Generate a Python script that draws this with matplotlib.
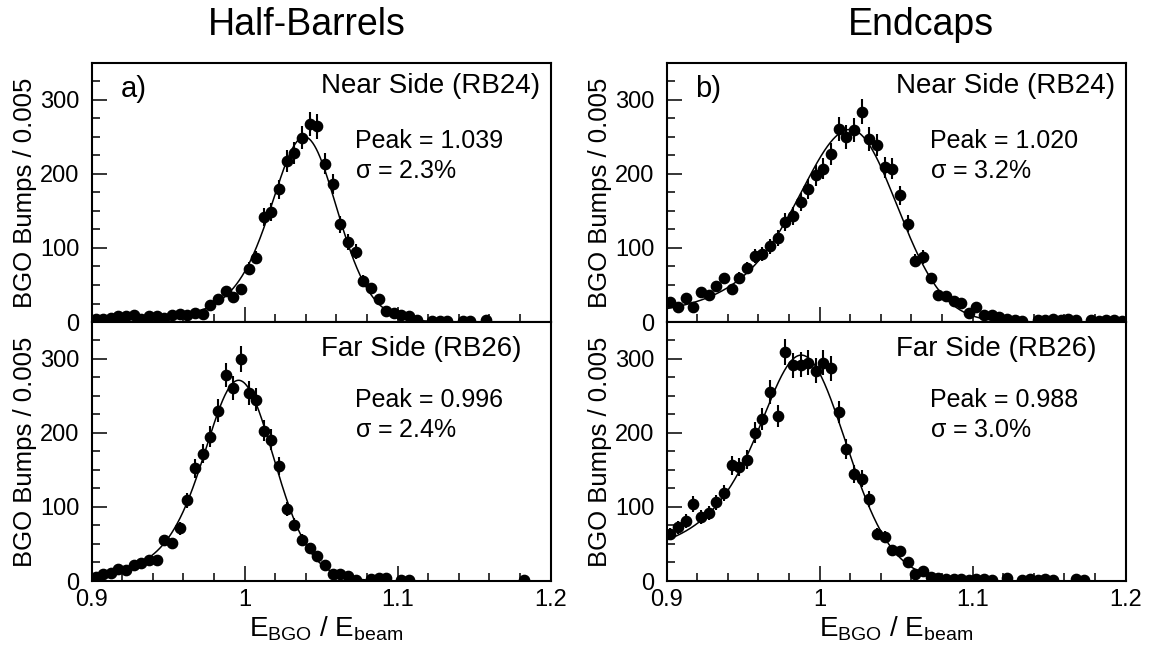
import numpy as np
import matplotlib
matplotlib.use('Agg')
import matplotlib.pyplot as plt
from matplotlib.ticker import MultipleLocator, FixedLocator

plt.rcParams['font.family'] = ['Liberation Sans', 'DejaVu Sans']
plt.rcParams['mathtext.fontset'] = 'custom'
plt.rcParams['mathtext.rm'] = 'Liberation Sans'
plt.rcParams['mathtext.it'] = 'Liberation Sans:italic'
plt.rcParams['mathtext.default'] = 'regular'

# ---- histogram binning: E_BGO / E_beam from 0.9, bins of 0.005 ----
bin_lo = 0.9
bin_w = 0.005

# bin contents (0 = empty bin)
near_hb = [4.5, 4.5, 6, 8, 8, 10, 4, 8, 8, 6, 9, 11, 10, 12, 11, 23, 31, 42, 34, 45,
           72, 87, 142, 149, 179, 217, 228, 249, 267, 264, 214, 186, 132, 108, 95, 56, 46, 31, 15, 12,
           9, 8, 3, 0, 2, 2, 2, 0, 2, 2, 0, 3, 0, 0, 0, 0, 0, 0, 0, 0]
far_hb = [5, 9.5, 11, 16, 15, 22, 24, 28, 29, 55, 51, 71, 109, 152, 172, 195, 230, 278, 260, 300,
          254, 245, 203, 191, 155, 97, 76, 56, 45, 34, 22, 10, 9.5, 7, 2, 0, 3, 4, 4, 0,
          2, 2, 0, 0, 0, 0, 0, 0, 0, 0, 0, 0, 0, 0, 0, 0, 2, 0, 0, 0]
near_ec = [27, 20, 32, 20, 40, 36, 48, 59, 45, 60, 73, 89, 92, 102, 113, 135, 143, 162, 180, 198,
           207, 227, 261, 250, 259, 284, 247, 239, 209, 207, 171, 133, 83, 88, 59, 37, 35, 28, 26, 12,
           20, 10, 9, 7, 4.5, 3, 2, 0, 3, 3, 4, 3, 4, 3, 0, 3, 2, 3, 3, 2]
far_ec = [64, 72.5, 81, 104, 86, 92, 106, 119, 156, 154, 164, 200, 219, 255, 223, 309, 291, 292, 295, 284,
          295, 287, 228, 178, 145, 138, 111, 64, 60, 42, 41, 26, 10, 14, 6, 4, 3, 3, 3, 2,
          3, 3, 2, 0, 4, 0, 2, 3, 2, 3, 2, 0, 0, 3, 2, 0, 0, 0, 0, 0]

# fit results: peak, height, sigma_left, alpha_left, sigma_right, alpha_right
fit_near_hb = [1.039, 250, 0.0215, 0.16, 0.0212, 0.05]
fit_far_hb = [0.996, 271, 0.0225, 0.17, 0.0230, 0.04]
fit_near_ec = [1.020, 260, 0.0345, 0.21, 0.0305, 0.0]
fit_far_ec = [0.988, 305, 0.0289, 0.37, 0.0292, 0.03]

side_labels = ['Near Side (RB24)', 'Far Side (RB26)']
peak_texts = [['Peak = 1.039', 'Peak = 0.996'], ['Peak = 1.020', 'Peak = 0.988']]
sigma_texts = [[r'σ = 2.3$\mathit{\%}$', r'σ = 2.4$\mathit{\%}$'],
               [r'σ = 3.2$\mathit{\%}$', r'σ = 3.0$\mathit{\%}$']]
col_titles = ['Half-Barrels', 'Endcaps']
panel_tags = ['a)', 'b)']


def fit_curve(x, peak, amp, sl, al, sr, ar):
    # asymmetric gaussian with tails (fit function)
    d = x - peak
    s = np.where(d < 0, sl, sr)
    a = np.where(d < 0, al, ar)
    return amp * np.exp(-d ** 2 / (2 * s ** 2 + a * d ** 2))


def draw_panel(ax, counts, fit, show_xlabels):
    y = np.array(counts, dtype=float)
    x = bin_lo + bin_w * (np.arange(len(y)) + 0.5)
    keep = y > 0
    xf = np.linspace(0.9, 1.2, 800)
    ax.plot(xf, fit_curve(xf, *fit), color='k', lw=1.1, zorder=2)
    ax.errorbar(x[keep], y[keep], yerr=np.sqrt(y[keep]), fmt='o', color='k',
                ms=7.4, elinewidth=1.5, capsize=0, zorder=3)
    ax.set_xlim(0.9, 1.2)
    ax.set_ylim(0, 350)
    ax.xaxis.set_major_locator(FixedLocator([0.9, 1.0, 1.1, 1.2]))
    ax.xaxis.set_minor_locator(MultipleLocator(0.02))
    ax.yaxis.set_major_locator(FixedLocator([0, 100, 200, 300]))
    ax.yaxis.set_minor_locator(MultipleLocator(25))
    ax.tick_params(which='both', direction='in', top=False, right=False, width=1.1)
    ax.tick_params(which='major', length=11)
    ax.tick_params(which='minor', length=5.5)
    ax.tick_params(axis='y', labelsize=17, pad=9)
    ax.tick_params(axis='x', labelsize=17, pad=6)
    if show_xlabels:
        ax.set_xticklabels(['0.9', '1', '1.1', '1.2'])
    else:
        ax.set_xticklabels([])
    for sp in ax.spines.values():
        sp.set_linewidth(1.5)


fig = plt.figure(figsize=(11.52, 6.58), dpi=100)

lefts = [0.0796, 0.5787]
bottoms = [0.5106, 0.117]
w, h = 0.3984, 0.394
data = [[near_hb, far_hb], [near_ec, far_ec]]
fits = [[fit_near_hb, fit_far_hb], [fit_near_ec, fit_far_ec]]

for c in range(2):
    for r in range(2):
        ax = fig.add_axes([lefts[c], bottoms[r], w, h])
        draw_panel(ax, data[c][r], fits[c][r], show_xlabels=(r == 1))
        ty = 0.91 if r == 0 else 0.895
        ax.text(0.499, ty, side_labels[r], transform=ax.transAxes,
                ha='left', va='center', fontsize=20)
        ax.text(0.574, 0.697, peak_texts[c][r], transform=ax.transAxes,
                ha='left', va='center', fontsize=18)
        ax.text(0.574, 0.583, sigma_texts[c][r], transform=ax.transAxes,
                ha='left', va='center', fontsize=18)
        if r == 0:
            ax.text(0.063, 0.9, panel_tags[c], transform=ax.transAxes,
                    ha='left', va='center', fontsize=21)
        fig.text(lefts[c] - 0.058, bottoms[r] + h / 2, 'BGO Bumps / 0.005',
                 rotation=90, ha='center', va='center', fontsize=18.5)
    fig.text(lefts[c] + w / 2 + 0.004 * (c == 0), 0.045,
             r'E$_{BGO}$ / E$_{beam}$', ha='center', va='center', fontsize=20)

fig.text(0.266, 0.962, col_titles[0], ha='center', va='center', fontsize=27)
fig.text(0.799, 0.962, col_titles[1], ha='center', va='center', fontsize=27)

fig.savefig('out.png', dpi=100)
